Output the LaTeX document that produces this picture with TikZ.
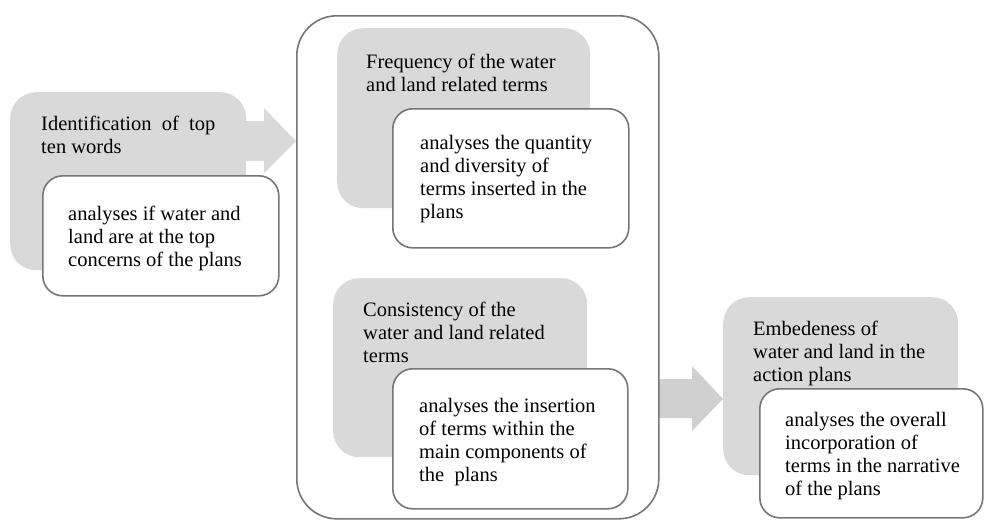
\documentclass[tikz,border=0pt]{standalone}
\usepackage{fontspec}
\setmainfont{Liberation Serif}
\definecolor{boxgray}{RGB}{217,217,217}
\definecolor{arrowgray}{RGB}{208,208,208}
\definecolor{linegray}{RGB}{118,118,118}

\begin{document}
\begin{tikzpicture}[x=1pt, y=-1pt,
    gray box/.style={rectangle, rounded corners=26pt, fill=boxgray, inner sep=0pt, anchor=north west},
    white box/.style={rectangle, rounded corners=20pt, draw=linegray, line width=1.6pt, fill=white, inner sep=0pt, anchor=north west},
    outer box/.style={rectangle, rounded corners=40pt, draw=linegray, line width=1.6pt, inner sep=0pt, anchor=north west},
    label text/.style={anchor=north west, align=left, inner sep=0pt, font=\fontsize{20.5}{23}\selectfont}]

    \useasboundingbox (0,0) rectangle (984,520);

    % block arrows (behind the boxes)
    \coordinate (tipA) at (296,141);
    \coordinate (tipB) at (723,399);
    \fill[boxgray] (tipA) -- ++(-32,-33) -- ++(0,13) -- ++(-30,0) -- ++(0,40) -- ++(30,0) -- ++(0,12) -- cycle;
    \fill[arrowgray] (tipB) -- ++(-31,-33) -- ++(0,13) -- ++(-33,0) -- ++(0,39) -- ++(33,0) -- ++(0,13) -- cycle;

    % container
    \node[outer box, minimum width=362pt, minimum height=503pt] (container) at (296,15) {};

    % step 1
    \node[gray box, minimum width=236pt, minimum height=178pt] (idbox) at (10,92) {};
    \node[white box, minimum width=236pt, minimum height=120pt] (idnote) at (42,175) {};
    \node[label text] (idtitle) at (41,116) {Identification\ \ of\ \ top\\ten words};
    \node[label text] (idtext) at (68,206) {analyses if water and\\land are at the top\\concerns of the plans};

    % step 2a
    \node[gray box, minimum width=253pt, minimum height=180pt] (freqbox) at (337,28) {};
    \node[white box, minimum width=236pt, minimum height=139pt] (freqnote) at (392,108) {};
    \node[label text] (freqtitle) at (366,54) {Frequency of the water\\and land related terms};
    \node[label text] (freqtext) at (420,135) {analyses the quantity\\and diversity of\\terms inserted in the\\plans};

    % step 2b
    \node[gray box, minimum width=254pt, minimum height=179pt] (consbox) at (333,278) {};
    \node[white box, minimum width=235pt, minimum height=140pt] (consnote) at (392,368) {};
    \node[label text] (constitle) at (363,302) {Consistency of the\\water and land related\\terms};
    \node[label text] (constext) at (419,398) {analyses the insertion\\of terms within the\\main components of\\the\ \ plans};

    % step 3
    \node[gray box, minimum width=235pt, minimum height=178pt] (embbox) at (723,297) {};
    \node[white box, minimum width=223pt, minimum height=129pt] (embnote) at (759,388) {};
    \node[label text] (embtitle) at (753,321) {Embedeness of\\water and land in the\\action plans};
    \node[label text] (embtext) at (785,412) {analyses the overall\\incorporation of\\terms in the narrative\\of the plans};

\end{tikzpicture}
\end{document}
